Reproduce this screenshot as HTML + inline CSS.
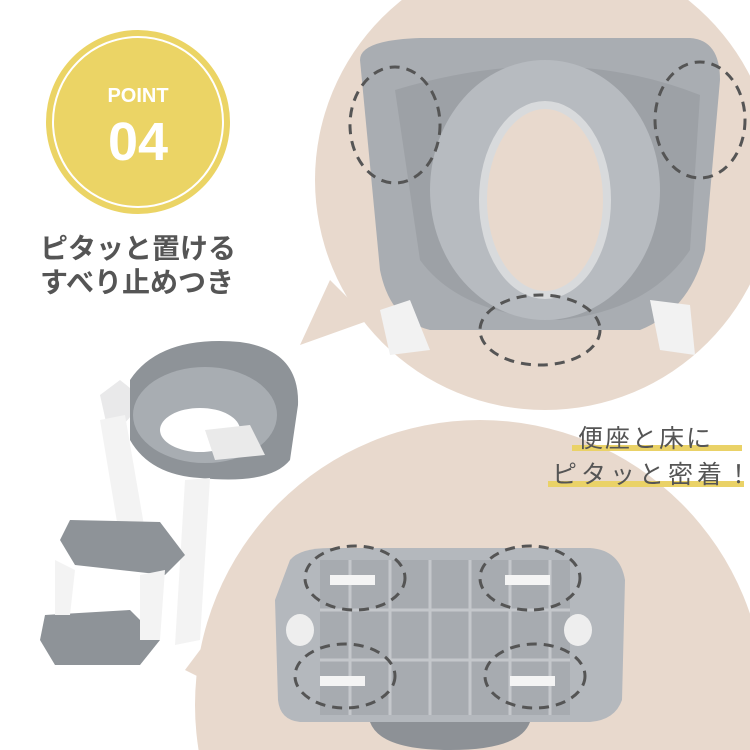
<!DOCTYPE html>
<html><head><meta charset="utf-8"><style>
body{margin:0;width:750px;height:750px;overflow:hidden;background:#fff}
svg{display:block}
</style></head><body>
<svg width="750" height="750" viewBox="0 0 750 750" xmlns="http://www.w3.org/2000/svg" font-family="Liberation Sans, Noto Sans CJK JP, sans-serif">
<rect width="750" height="750" fill="#fff"/>
<circle cx="545" cy="180" r="230" fill="#e8d9cd"/>
<path d="M330 280 L300 345 L370 320 Z" fill="#e8d9cd"/>
<circle cx="480" cy="705" r="285" fill="#e8d9cd"/>
<path d="M215 630 L185 670 L225 690 Z" fill="#e8d9cd"/>
<!-- top seat photo -->
<path d="M360 60 Q360 40 420 38 L690 38 Q720 40 720 80 L705 250 Q690 310 640 330 L430 330 Q390 320 380 270 Z" fill="#a9adb2"/>
<path d="M395 90 Q560 40 700 95 L690 250 Q650 310 560 320 Q460 315 420 260 Z" fill="#9da1a6"/>
<ellipse cx="545" cy="190" rx="115" ry="130" fill="#b7bbc0"/>
<ellipse cx="545" cy="200" rx="62" ry="95" fill="#e8d9cd" stroke="#d8dadc" stroke-width="8"/>
<path d="M380 310 L410 300 L430 350 L390 355 Z" fill="#f2f2f2"/>
<path d="M650 300 L690 305 L695 355 L660 350 Z" fill="#f2f2f2"/>
<g fill="none" stroke="#555" stroke-width="3" stroke-dasharray="10 7">
<ellipse cx="395" cy="125" rx="45" ry="58"/>
<ellipse cx="700" cy="120" rx="45" ry="58"/>
<ellipse cx="540" cy="330" rx="60" ry="35"/>
</g>
<!-- bottom underside photo -->
<path d="M290 560 Q300 548 330 548 L590 548 Q620 550 625 580 L622 700 Q615 720 590 722 L300 722 Q280 720 278 700 L275 600 Z" fill="#b4b8bd"/>
<rect x="320" y="560" width="250" height="155" fill="#a7abb0"/>
<g stroke="#c4c7cb" stroke-width="3">
<line x1="350" y1="560" x2="350" y2="715"/><line x1="390" y1="560" x2="390" y2="715"/><line x1="430" y1="560" x2="430" y2="715"/><line x1="470" y1="560" x2="470" y2="715"/><line x1="510" y1="560" x2="510" y2="715"/><line x1="550" y1="560" x2="550" y2="715"/>
<line x1="320" y1="610" x2="570" y2="610"/><line x1="320" y1="660" x2="570" y2="660"/>
</g>
<rect x="330" y="575" width="45" height="10" fill="#f4f4f4"/>
<rect x="505" y="575" width="45" height="10" fill="#f4f4f4"/>
<rect x="320" y="676" width="45" height="10" fill="#f4f4f4"/>
<rect x="510" y="676" width="45" height="10" fill="#f4f4f4"/>
<ellipse cx="300" cy="630" rx="14" ry="16" fill="#eee"/>
<ellipse cx="578" cy="630" rx="14" ry="16" fill="#eee"/>
<path d="M370 722 L530 722 Q520 750 450 750 Q380 750 370 722 Z" fill="#8d9196"/>
<g fill="none" stroke="#555" stroke-width="3" stroke-dasharray="10 7">
<ellipse cx="355" cy="578" rx="50" ry="32"/>
<ellipse cx="530" cy="578" rx="50" ry="32"/>
<ellipse cx="345" cy="676" rx="50" ry="32"/>
<ellipse cx="535" cy="676" rx="50" ry="32"/>
</g>
<!-- ladder product -->
<path d="M100 395 L120 380 L145 400 L110 440 Z" fill="#e9e9ea"/>
<path d="M130 380 Q160 335 240 342 Q300 350 298 405 L290 460 Q270 485 200 478 Q150 475 130 440 Z" fill="#8e9398"/>
<ellipse cx="205" cy="415" rx="72" ry="48" fill="#a8adb2"/>
<ellipse cx="200" cy="430" rx="40" ry="22" fill="#fff"/>
<path d="M100 420 L125 415 L150 560 L125 570 Z" fill="#f3f3f3"/>
<path d="M185 480 L210 478 L200 640 L175 645 Z" fill="#f3f3f3"/>
<path d="M70 520 L160 522 L185 555 L165 575 L75 565 L60 540 Z" fill="#8e9398"/>
<path d="M45 615 L130 610 L160 640 L140 665 L55 665 L40 640 Z" fill="#8e9398"/>
<path d="M55 560 L75 570 L70 615 L55 615 Z" fill="#f3f3f3"/>
<path d="M140 575 L165 570 L160 640 L140 640 Z" fill="#f3f3f3"/>
<path d="M205 430 L250 425 L265 455 L215 460 Z" fill="#eaeaea"/>
<!-- point badge -->
<circle cx="138" cy="122" r="92" fill="#ebd465"/>
<circle cx="138" cy="122" r="85" fill="none" stroke="#fff" stroke-width="2"/>
<text x="138" y="102" text-anchor="middle" fill="#fff" font-size="20" font-weight="bold">POINT</text>
<text x="138" y="160" text-anchor="middle" fill="#fff" font-size="54" font-weight="bold">04</text>
<text x="40" y="258" fill="#555" font-size="28" font-weight="bold">ピタッと置ける</text>
<text x="40" y="292" fill="#555" font-size="28" font-weight="bold">すべり止めつき</text>
<rect x="572" y="445" width="170" height="6" fill="#ead267"/>
<rect x="548" y="481" width="196" height="6" fill="#ead267"/>
<text x="578" y="447" fill="#555" font-size="25" letter-spacing="2">便座と床に</text>
<text x="552" y="483" fill="#555" font-size="25" letter-spacing="4">ピタッと密着！</text>
</svg>
</body></html>
